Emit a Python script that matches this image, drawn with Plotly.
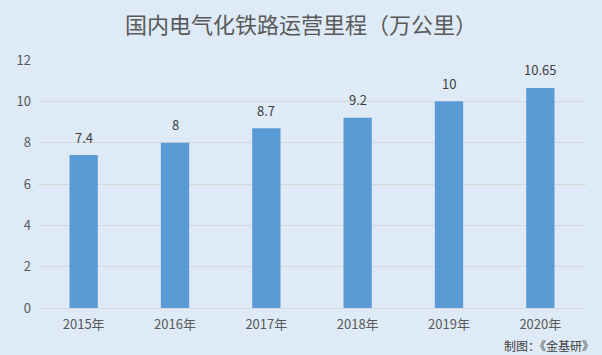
import plotly.graph_objects as go

categories = ["2015年", "2016年", "2017年", "2018年", "2019年", "2020年"]
values = [7.4, 8, 8.7, 9.2, 10, 10.65]
labels = ["7.4", "8", "8.7", "9.2", "10", "10.65"]
y_ticks = [0, 2, 4, 6, 8, 10, 12]

bg = "#DEEAF6"
font_family = "Noto Sans CJK SC, sans-serif"

fig = go.Figure()
fig.add_trace(go.Bar(
    x=categories, y=values,
    marker=dict(color="#5B9BD5", line=dict(width=0)),
    width=0.31,
))
annotations = [
    dict(x=c, y=v, text=t, xref="x", yref="y", showarrow=False,
         yanchor="middle", yshift=18, font=dict(size=13, color="#404040"))
    for c, v, t in zip(categories, values, labels)
]
annotations.append(dict(text="制图：《金基研》", x=1, xref="paper", xanchor="right", xshift=10,
                        y=0, yref="paper", yshift=-37, yanchor="middle",
                        showarrow=False, font=dict(size=12, color="#404040")))
fig.update_layout(
    width=602, height=355,
    paper_bgcolor=bg, plot_bgcolor=bg,
    margin=dict(l=38, r=16, t=60, b=47),
    font=dict(family=font_family, color="#595959", size=13),
    title=dict(text="国内电气化铁路运营里程（万公里）", x=0.5, xanchor="center",
               y=0.93, yanchor="middle",
               font=dict(size=22, color="#595959", family=font_family)),
    showlegend=False,
    xaxis=dict(showgrid=False, showline=False, ticks="", ticklabelstandoff=7,
               tickfont=dict(size=13, color="#595959")),
    yaxis=dict(range=[0, 12], tickvals=y_ticks, showgrid=True, gridcolor="#D6D6D6",
               gridwidth=1, zeroline=True, zerolinecolor="#D6D6D6", zerolinewidth=1,
               showline=False, ticks="", ticklabelstandoff=6,
               tickfont=dict(size=13, color="#595959")),
    annotations=annotations,
)
fig.write_html("out.html")
